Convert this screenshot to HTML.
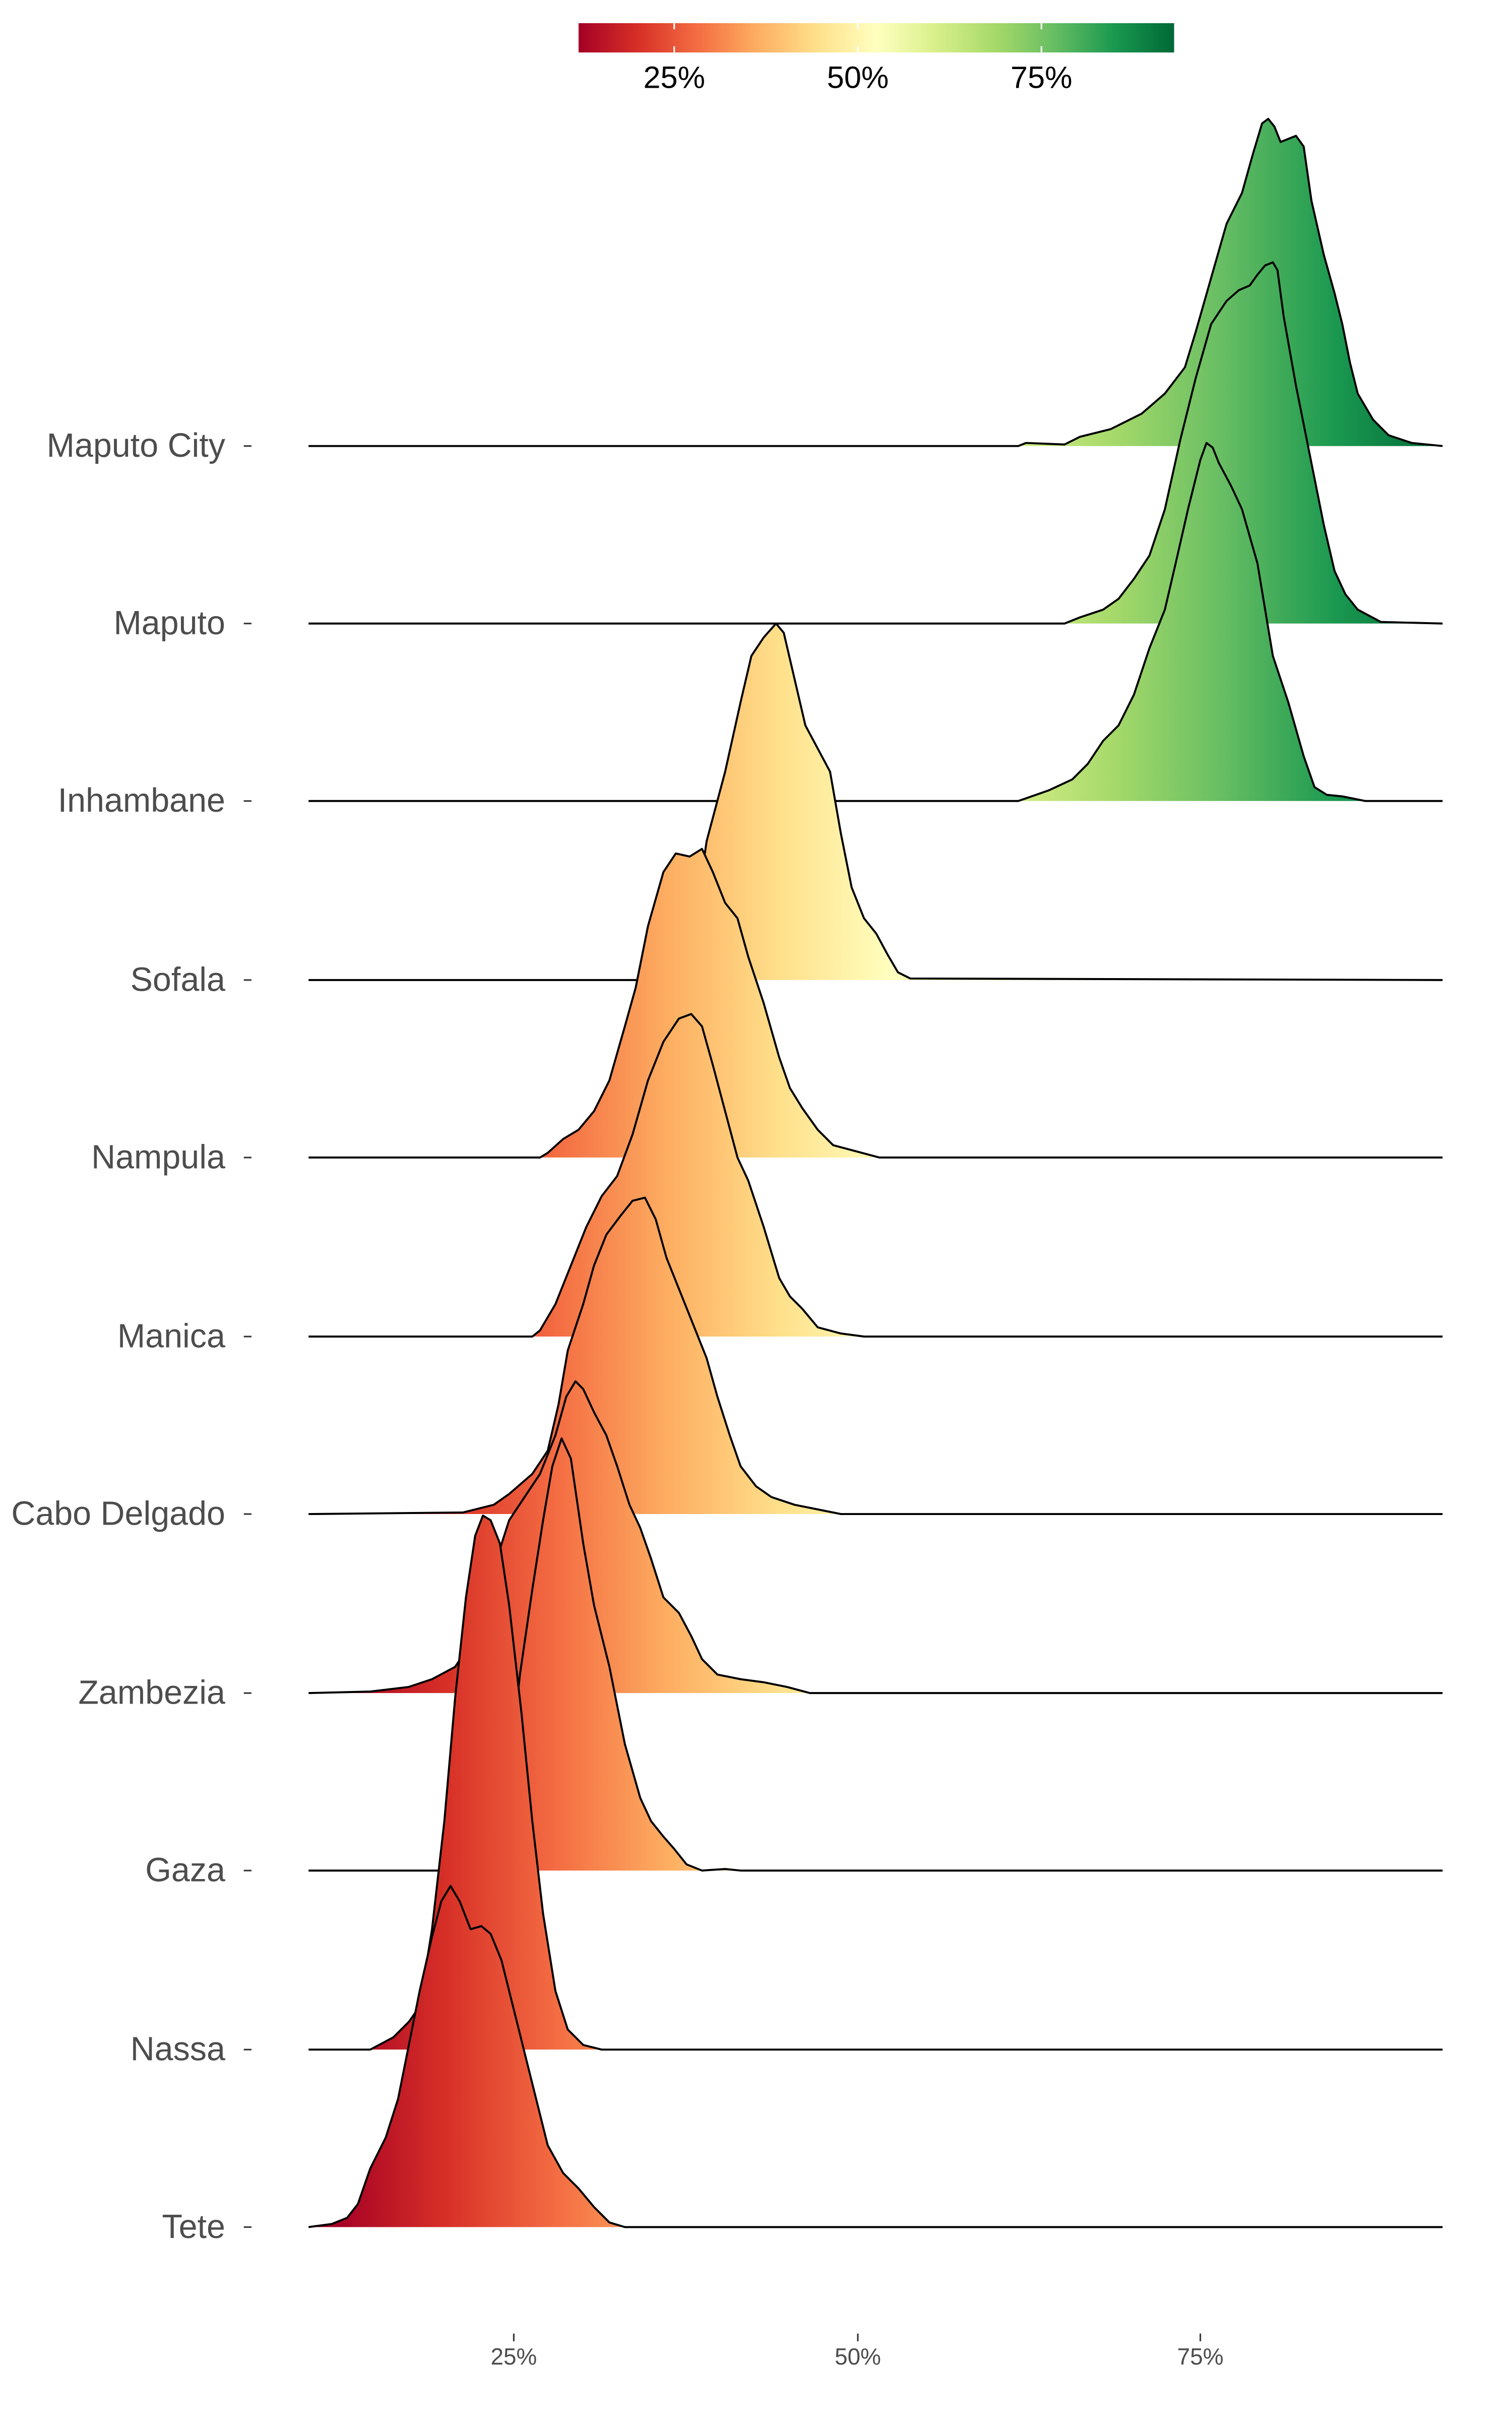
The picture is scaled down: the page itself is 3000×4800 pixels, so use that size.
<!DOCTYPE html>
<html><head><meta charset="utf-8"><style>
html,body{margin:0;padding:0;background:#fff;}
svg{display:block;}
</style></head><body>
<svg width="3000" height="4800" viewBox="0 0 980 1568" xmlns="http://www.w3.org/2000/svg">
<defs>
<linearGradient id="g" gradientUnits="userSpaceOnUse" x1="217" y1="0" x2="938" y2="0">
<stop offset="0" stop-color="#a50026"/><stop offset="0.1" stop-color="#d73027"/><stop offset="0.2" stop-color="#f46d43"/><stop offset="0.3" stop-color="#fdae61"/><stop offset="0.4" stop-color="#fee08b"/><stop offset="0.5" stop-color="#ffffbf"/><stop offset="0.6" stop-color="#d9ef8b"/><stop offset="0.7" stop-color="#a6d96a"/><stop offset="0.8" stop-color="#66bd63"/><stop offset="0.9" stop-color="#1a9850"/><stop offset="1" stop-color="#006837"/>
</linearGradient>
<linearGradient id="cb" x1="0" y1="0" x2="1" y2="0">
<stop offset="0" stop-color="#a50026"/><stop offset="0.1" stop-color="#d73027"/><stop offset="0.2" stop-color="#f46d43"/><stop offset="0.3" stop-color="#fdae61"/><stop offset="0.4" stop-color="#fee08b"/><stop offset="0.5" stop-color="#ffffbf"/><stop offset="0.6" stop-color="#d9ef8b"/><stop offset="0.7" stop-color="#a6d96a"/><stop offset="0.8" stop-color="#66bd63"/><stop offset="0.9" stop-color="#1a9850"/><stop offset="1" stop-color="#006837"/>
</linearGradient>
</defs>
<rect x="375" y="15" width="386" height="19" fill="url(#cb)"/>
<g stroke="#fff" stroke-width="1"><line x1="437" y1="15" x2="437" y2="19"/><line x1="437" y1="30" x2="437" y2="34"/><line x1="556" y1="15" x2="556" y2="19"/><line x1="556" y1="30" x2="556" y2="34"/><line x1="675" y1="15" x2="675" y2="19"/><line x1="675" y1="30" x2="675" y2="34"/></g>
<g font-family="Liberation Sans, sans-serif" font-size="20" fill="#000" text-anchor="middle"><text x="437" y="57">25%</text><text x="556" y="57">50%</text><text x="675" y="57">75%</text></g>

<g stroke="#000" stroke-width="1.3" fill="url(#g)" stroke-linejoin="round">
<path d="M200,289 L660,289 L665,287 L690,288 L700,283 L720,278 L740,268 L755,255 L768,238 L775,215 L785,180 L795,145 L805,125 L812,100 L818,80 L822,77 L826,82 L830,92 L835,90 L840,88 L845,95 L850,130 L858,165 L865,190 L870,210 L875,235 L880,255 L890,272 L900,282 L915,287 L935,289"/>
<path d="M200,404 L690,404 L700,400 L715,395 L725,388 L735,375 L745,360 L755,330 L765,285 L775,245 L785,210 L795,195 L803,188 L810,185 L815,178 L820,172 L825,170 L828,175 L832,205 L840,250 L850,300 L858,340 L865,370 L872,385 L880,395 L895,403 L935,404"/>
<path d="M200,519 L660,519 L680,512 L695,505 L705,495 L715,480 L725,470 L735,450 L745,420 L755,395 L762,365 L770,330 L778,298 L782,287 L786,290 L790,300 L798,315 L805,330 L815,365 L825,425 L835,455 L845,490 L852,510 L860,515 L870,516 L885,519 L935,519"/>
<path d="M200,635 L430,635 L440,630 L450,600 L458,545 L470,500 L480,455 L487,425 L495,413 L503,404 L508,410 L515,440 L522,470 L530,485 L538,500 L545,540 L552,575 L560,595 L568,605 L575,618 L582,630 L590,634 L935,635"/>
<path d="M200,750 L350,750 L355,747 L365,738 L375,732 L385,720 L395,700 L405,665 L412,640 L420,600 L430,565 L438,553 L447,555 L455,550 L462,565 L470,585 L478,595 L485,620 L495,650 L505,685 L512,705 L520,718 L530,732 L540,742 L555,746 L570,750 L935,750"/>
<path d="M200,866 L345,866 L350,862 L360,845 L370,820 L380,795 L390,775 L400,762 L410,735 L420,700 L430,675 L440,660 L448,657 L455,665 L462,690 L470,720 L478,750 L485,765 L495,795 L505,828 L512,840 L520,848 L530,860 L545,864 L560,866 L935,866"/>
<path d="M200,981 L300,980 L320,975 L330,968 L345,955 L355,940 L362,910 L368,875 L378,845 L385,820 L393,800 L402,788 L410,778 L418,776 L425,790 L432,815 L440,835 L450,860 L458,880 L465,905 L473,930 L480,950 L490,963 L500,970 L515,975 L530,978 L545,981 L935,981"/>
<path d="M200,1097 L240,1096 L265,1093 L280,1088 L295,1080 L305,1065 L315,1040 L322,1010 L330,985 L340,970 L350,955 L360,930 L367,905 L373,895 L378,900 L385,915 L393,930 L400,950 L408,975 L415,990 L422,1010 L430,1035 L440,1045 L448,1060 L455,1075 L465,1085 L480,1088 L495,1090 L510,1093 L525,1097 L935,1097"/>
<path d="M200,1212 L322,1212 L330,1150 L337,1085 L345,1030 L352,985 L358,950 L364,932 L370,945 L378,1000 L385,1040 L395,1080 L405,1130 L415,1165 L422,1180 L430,1190 L437,1198 L445,1208 L455,1212 L470,1211 L480,1212 L935,1212"/>
<path d="M200,1328 L240,1328 L255,1320 L265,1310 L272,1300 L280,1250 L288,1180 L295,1100 L302,1035 L308,995 L313,982 L318,985 L324,1000 L330,1040 L338,1110 L345,1180 L352,1240 L360,1290 L368,1315 L378,1325 L390,1328 L935,1328"/>
<path d="M200,1443 L215,1441 L225,1437 L232,1428 L240,1405 L250,1385 L258,1360 L265,1325 L272,1290 L280,1255 L286,1232 L292,1222 L298,1232 L305,1250 L312,1248 L318,1253 L325,1270 L335,1310 L345,1350 L355,1390 L365,1408 L375,1418 L385,1430 L395,1440 L405,1443 L420,1443 L935,1443"/>
</g>

<g font-family="Liberation Sans, sans-serif" font-size="21.7" fill="#4d4d4d" text-anchor="end">
<text x="146" y="296">Maputo City</text><text x="146" y="411">Maputo</text><text x="146" y="526">Inhambane</text><text x="146" y="642">Sofala</text><text x="146" y="757">Nampula</text><text x="146" y="873">Manica</text><text x="146" y="988">Cabo Delgado</text><text x="146" y="1104">Zambezia</text><text x="146" y="1219">Gaza</text><text x="146" y="1335">Nassa</text><text x="146" y="1450">Tete</text>
</g>
<g stroke="#333" stroke-width="1">
<line x1="158" y1="289" x2="163" y2="289"/><line x1="158" y1="404" x2="163" y2="404"/><line x1="158" y1="519" x2="163" y2="519"/><line x1="158" y1="635" x2="163" y2="635"/><line x1="158" y1="750" x2="163" y2="750"/><line x1="158" y1="866" x2="163" y2="866"/><line x1="158" y1="981" x2="163" y2="981"/><line x1="158" y1="1097" x2="163" y2="1097"/><line x1="158" y1="1212" x2="163" y2="1212"/><line x1="158" y1="1328" x2="163" y2="1328"/><line x1="158" y1="1443" x2="163" y2="1443"/>
<line x1="333" y1="1512" x2="333" y2="1517"/><line x1="556" y1="1512" x2="556" y2="1517"/><line x1="778" y1="1512" x2="778" y2="1517"/>
</g>
<g font-family="Liberation Sans, sans-serif" font-size="15" fill="#4d4d4d" text-anchor="middle">
<text x="333" y="1532">25%</text><text x="556" y="1532">50%</text><text x="778" y="1532">75%</text>
</g>
</svg>
</body></html>
